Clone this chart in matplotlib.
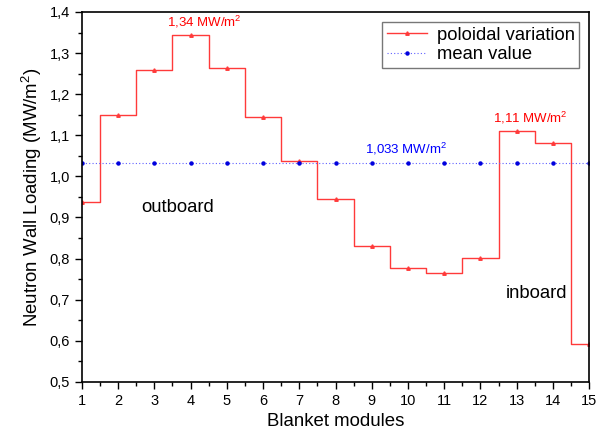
import matplotlib
matplotlib.use("Agg")
import matplotlib.pyplot as plt
import numpy as np
from matplotlib.ticker import FuncFormatter, MultipleLocator

plt.rcParams["font.family"] = ["Liberation Sans", "DejaVu Sans"]
plt.rcParams["mathtext.fontset"] = "custom"
plt.rcParams["mathtext.rm"] = "Liberation Sans"
plt.rcParams["mathtext.it"] = "Liberation Sans:italic"

modules = np.arange(1, 16)
wall_loading = [0.937, 1.150, 1.258, 1.344, 1.264, 1.145, 1.038, 0.945,
                0.831, 0.777, 0.765, 0.802, 1.110, 1.081, 0.592]
mean_value = 1.033

fig = plt.figure(figsize=(5.97, 4.43), dpi=100)
ax = fig.add_axes([0.137, 0.138, 0.850, 0.835])

ax.step(modules, wall_loading, where="mid", color="#ff3a3a", lw=1.0,
        marker="^", markersize=2.5, label="poloidal variation")
ax.plot(modules, [mean_value] * len(modules), color="#6060ff", lw=0.8,
        linestyle=(0, (1, 2)), marker="o", markersize=2.2,
        markerfacecolor="#0000dd", markeredgecolor="#0000dd",
        label="mean value")

ax.set_xlim(1, 15)
ax.set_ylim(0.5, 1.4)
ax.xaxis.set_major_locator(MultipleLocator(1))
ax.xaxis.set_minor_locator(MultipleLocator(0.5))
ax.yaxis.set_major_locator(MultipleLocator(0.1))
ax.yaxis.set_minor_locator(MultipleLocator(0.05))
ax.yaxis.set_major_formatter(FuncFormatter(lambda v, p: f"{v:.1f}".replace(".", ",")))
ax.tick_params(which="major", length=5, width=1, labelsize=10.5)
ax.tick_params(which="minor", length=3, width=1)
for s in ax.spines.values():
    s.set_linewidth(1.2)

ax.set_xlabel("Blanket modules", fontsize=13.4)
ax.set_ylabel("Neutron Wall Loading (MW/m$^\\mathrm{2}$)", fontsize=13.4)

ax.text(4.37, 1.364, "1,34 MW/m$^\\mathrm{2}$", color="red", fontsize=9.5, ha="center")
ax.text(13.38, 1.13, "1,11 MW/m$^\\mathrm{2}$", color="red", fontsize=9.5, ha="center")
ax.text(9.95, 1.056, "1,033 MW/m$^\\mathrm{2}$", color="blue", fontsize=9.5, ha="center")
ax.text(3.65, 0.913, "outboard", fontsize=13.3, ha="center")
ax.text(13.55, 0.703, "inboard", fontsize=13.3, ha="center")

leg = ax.legend(loc="upper right", fontsize=13.2, frameon=True, fancybox=False,
                edgecolor="#555555", handlelength=2.2, borderpad=0.25,
                labelspacing=0.15, handletextpad=0.5, borderaxespad=0,
                bbox_to_anchor=(0.980, 0.973))
leg.get_frame().set_linewidth(1.0)

fig.savefig("out.png", dpi=100)
